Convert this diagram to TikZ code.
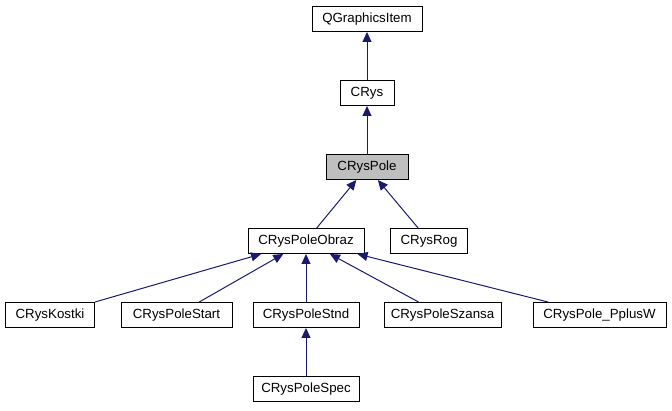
\documentclass[tikz,border=0pt]{standalone}
\usepackage{fontspec}
\setmainfont{Liberation Sans}
\usetikzlibrary{arrows.meta}
\definecolor{edgeblue}{HTML}{191970}
\definecolor{curgray}{HTML}{BFBFBF}
\tikzset{
  cls/.style={draw=black, fill=white, line width=1pt, inner sep=0pt,
    minimum height=25pt, font=\fontsize{13.3}{16}\selectfont},
  dep/.style={draw=edgeblue, line width=1pt,
    -{Triangle[length=10pt,width=9pt,fill=edgeblue]}}
}
\begin{document}
\begin{tikzpicture}[x=1pt,y=-1pt]
\useasboundingbox (0,0) rectangle (672,411);

\node [cls, minimum width=110pt] (v1) at (367,19) {QGraphicsItem};
\node [cls, minimum width=54pt] (v2) at (367,93) {CRys};
\node [cls, minimum width=82pt, fill=curgray] (v3) at (367,167) {CRysPole};
\node [cls, minimum width=116pt] (v4) at (306,241) {CRysPoleObraz};
\node [cls, minimum width=77pt] (v5) at (429,241) {CRysRog};

\node [cls, minimum width=89pt] (v6) at (50,315) {CRysKostki};
\node [cls, minimum width=111pt] (v7) at (176.5,315) {CRysPoleStart};
\node [cls, minimum width=106pt] (v8) at (306,315) {CRysPoleStnd};
\node [cls, minimum width=117pt] (v9) at (442.5,315) {CRysPoleSzansa};
\node [cls, minimum width=133pt] (v10) at (599.5,315) {CRysPole\_PplusW};
\node [cls, minimum width=106pt] (v11) at (306,389) {CRysPoleSpec};

\draw [dep] (v2) edge (v1);
\draw [dep] (v3) edge (v2);
\draw [dep] (v4) edge (v3);
\draw [dep] (v5) edge (v3);
\draw [dep] (v6) edge (v4);
\draw [dep] (v7) edge (v4);
\draw [dep] (v8) edge (v4);
\draw [dep] (v9) edge (v4);
\draw [dep] (v10) edge (v4);
\draw [dep] (v11) edge (v8);
\end{tikzpicture}
\end{document}
